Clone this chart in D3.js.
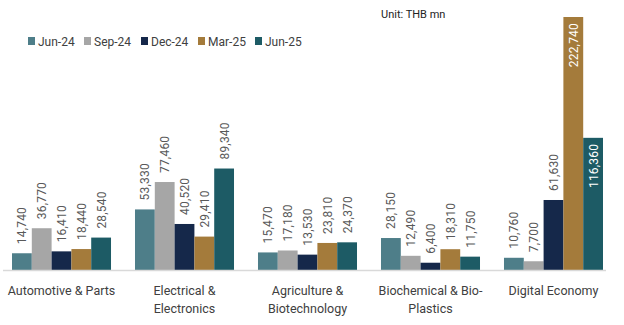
<!DOCTYPE html>
<html lang="en">
<head>
<meta charset="UTF-8">
<title>Investment promotion applications by sector</title>
<script src="https://d3js.org/d3.v7.min.js"></script>
<style>
html, body {
  margin: 0;
  padding: 0;
  background: white;
}
body {
  font-family: 'Roboto', sans-serif;
}
.label {
  font-size: 12px;
  fill: #595959;
  letter-spacing: 0.2px;
}
.label.inside {
  fill: white;
}
.cat text {
  font-size: 12.5px;
  fill: #404040;
}
.legend text {
  font-size: 12px;
  fill: #404040;
}
</style>
</head>
<body>
<div id="chart"></div>
<script>

// --------------------------------------
// Data
// --------------------------------------

const categories = [
  ["Automotive & Parts"],
  ["Electrical &", "Electronics"],
  ["Agriculture &", "Biotechnology"],
  ["Biochemical & Bio-", "Plastics"],
  ["Digital Economy"]
];
const periods = ["Jun-24", "Sep-24", "Dec-24", "Mar-25", "Jun-25"];
const jun24 = [14740, 53330, 15470, 28150, 10760];
const sep24 = [36770, 77460, 17180, 12490, 7700];
const dec24 = [16410, 40520, 13530, 6400, 61630];
const mar25 = [18440, 29410, 23810, 18310, 222740];
const jun25 = [28540, 89340, 24370, 11750, 116360];
const unitText = "Unit: THB mn";

const colors = ["#4E7E89", "#A6A6A6", "#15284A", "#A47B3B", "#1D5B65"];
const series = [jun24, sep24, dec24, mar25, jun25];

// --------------------------------------
// Size and SVG
// --------------------------------------

const totalWidth = 624;
const totalHeight = 325;
const baseline = 270;

const svg = d3.select("#chart")
  .append("svg")
  .attr("width", totalWidth)
  .attr("height", totalHeight);

// --------------------------------------
// Scales
// --------------------------------------

const x0 = d3.scaleBand()
  .domain(d3.range(categories.length))
  .range([12, 603])
  .paddingInner(0.195)
  .paddingOuter(0);

const x1 = d3.scaleBand()
  .domain(d3.range(periods.length))
  .range([0, x0.bandwidth()]);

const y = d3.scaleLinear()
  .domain([0, 222740])
  .range([baseline, 17]);

// --------------------------------------
// Bars and labels
// --------------------------------------

const groups = svg.selectAll(".grp")
  .data(categories)
  .join("g")
  .attr("class", "grp")
  .attr("transform", (d, i) => `translate(${x0(i)},0)`);

groups.each(function(c, ci) {
  const g = d3.select(this);
  series.forEach((s, si) => {
    const v = s[ci];
    g.append("rect")
      .attr("x", x1(si))
      .attr("y", y(v))
      .attr("width", x1.bandwidth())
      .attr("height", baseline - y(v))
      .attr("fill", colors[si]);

    // big values sit inside the bar, the rest above it
    const inside = v > 100000;
    const cx = x1(si) + x1.bandwidth() / 2;
    g.append("text")
      .attr("class", inside ? "label inside" : "label")
      .attr("transform", `translate(${cx + 4.5},${inside ? y(v) + 6 : y(v) - 9}) rotate(-90)`)
      .attr("text-anchor", inside ? "end" : "start")
      .text(d3.format(",")(v));
  });
});

// baseline
svg.append("line")
  .attr("x1", 3)
  .attr("x2", 606)
  .attr("y1", baseline + 0.5)
  .attr("y2", baseline + 0.5)
  .attr("stroke", "#D9D9D9")
  .attr("stroke-width", 1.5);

// --------------------------------------
// Category labels
// --------------------------------------

const cat = svg.append("g").attr("class", "cat");
categories.forEach((lines, i) => {
  const t = cat.append("text")
    .attr("x", x0(i) + x0.bandwidth() / 2)
    .attr("y", 295)
    .attr("text-anchor", "middle");
  lines.forEach((l, li) => {
    t.append("tspan")
      .attr("x", x0(i) + x0.bandwidth() / 2)
      .attr("dy", li === 0 ? 0 : 18)
      .text(l);
  });
});

// --------------------------------------
// Legend and unit
// --------------------------------------

const legendX = [28, 84, 141, 198, 255];
const legend = svg.append("g").attr("class", "legend");
periods.forEach((p, i) => {
  legend.append("rect")
    .attr("x", legendX[i])
    .attr("y", 37)
    .attr("width", 7)
    .attr("height", 8)
    .attr("fill", colors[i]);
  legend.append("text")
    .attr("x", legendX[i] + 10)
    .attr("y", 45.5)
    .text(p);
});

svg.append("text")
  .attr("x", 381)
  .attr("y", 18)
  .style("font-size", "11px")
  .style("fill", "#222")
  .text(unitText);

</script>
</body>
</html>
